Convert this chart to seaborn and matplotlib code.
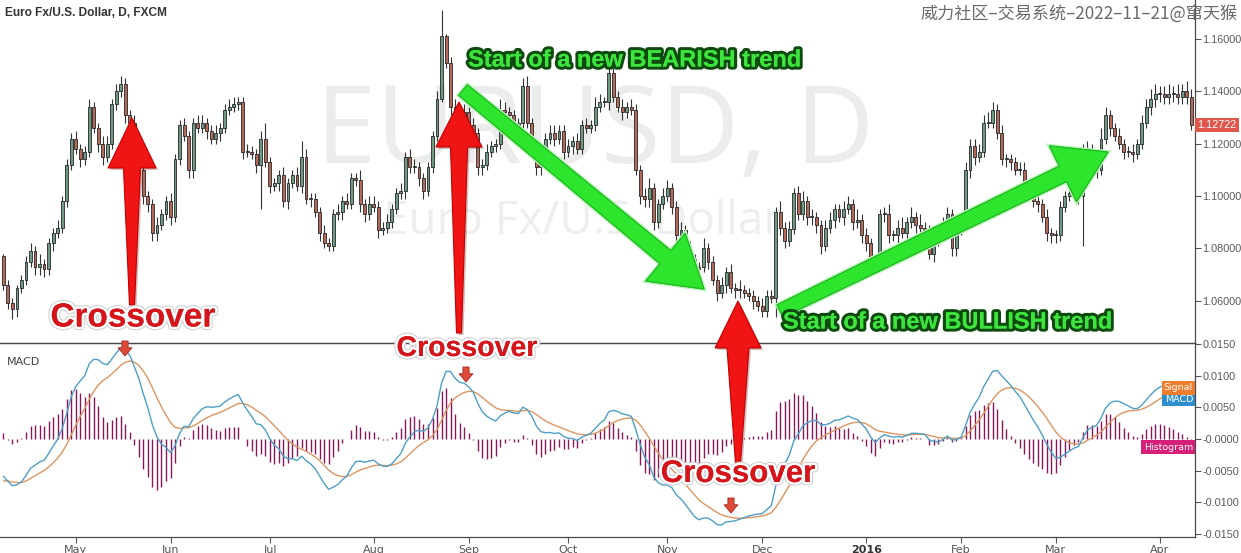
import numpy as np
import pandas as pd
import matplotlib
matplotlib.use("Agg")
import matplotlib.pyplot as plt
import seaborn as sns
from matplotlib.patches import Polygon
from matplotlib.transforms import Affine2D
import matplotlib.patheffects as pe

# ---------------- data ----------------
START_DATE = "2015-04-09"
FIRST_OPEN = 1.077
CLOSES = [
    1.066, 1.059, 1.057, 1.065, 1.068, 1.075, 1.079, 1.073, 1.074, 1.072, 1.082, 1.086, 1.088, 1.098, 1.112, 1.122, 1.118, 1.114, 1.117, 1.134,
    1.126, 1.120, 1.115, 1.120, 1.135, 1.140, 1.143, 1.131, 1.128, 1.115, 1.110, 1.100, 1.097, 1.086, 1.089, 1.093, 1.098, 1.092, 1.114, 1.127,
    1.123, 1.110, 1.128, 1.126, 1.128, 1.125, 1.122, 1.124, 1.126, 1.133, 1.134, 1.135, 1.136, 1.117, 1.117, 1.116, 1.112, 1.122, 1.113, 1.104,
    1.105, 1.108, 1.098, 1.105, 1.108, 1.104, 1.115, 1.099, 1.099, 1.094, 1.086, 1.082, 1.081, 1.093, 1.094, 1.098, 1.097, 1.107, 1.106, 1.097,
    1.093, 1.097, 1.096, 1.087, 1.088, 1.090, 1.095, 1.101, 1.102, 1.115, 1.111, 1.111, 1.107, 1.102, 1.111, 1.123, 1.137, 1.161, 1.151, 1.134,
    1.122, 1.126, 1.132, 1.127, 1.124, 1.111, 1.112, 1.117, 1.119, 1.120, 1.133, 1.132, 1.131, 1.126, 1.128, 1.142, 1.128, 1.119, 1.111, 1.115,
    1.122, 1.124, 1.122, 1.125, 1.117, 1.119, 1.121, 1.118, 1.127, 1.126, 1.127, 1.134, 1.136, 1.136, 1.147, 1.138, 1.134, 1.132, 1.134, 1.133,
    1.110, 1.100, 1.099, 1.103, 1.090, 1.097, 1.100, 1.103, 1.096, 1.085, 1.087, 1.081, 1.076, 1.072, 1.073, 1.080, 1.075, 1.068, 1.063, 1.066,
    1.071, 1.065, 1.064, 1.064, 1.063, 1.062, 1.060, 1.058, 1.056, 1.062, 1.061, 1.094, 1.088, 1.083, 1.0875, 1.101, 1.093, 1.098, 1.092, 1.092,
    1.089, 1.081, 1.088, 1.091, 1.095, 1.092, 1.095, 1.097, 1.090, 1.091, 1.085, 1.082, 1.074, 1.076, 1.093, 1.093, 1.085, 1.085, 1.088, 1.086,
    1.090, 1.092, 1.089, 1.088, 1.087, 1.078, 1.083, 1.085, 1.090, 1.093, 1.080, 1.087, 1.091, 1.110, 1.119, 1.115, 1.117, 1.128, 1.128, 1.133,
    1.124, 1.114, 1.114, 1.113, 1.110, 1.110, 1.104, 1.101, 1.098, 1.097, 1.092, 1.086, 1.085, 1.085, 1.096, 1.100, 1.101, 1.102, 1.100, 1.115,
    1.117, 1.110, 1.110, 1.122, 1.131, 1.126, 1.123, 1.120, 1.117, 1.117, 1.116, 1.120, 1.128, 1.134, 1.137, 1.139, 1.139, 1.138, 1.139, 1.139,
    1.138, 1.140, 1.138, 1.12722,
]
# wick lengths beyond the body, in units of 0.001
UPPER_WICK = [
    1, 2, 2, 1, 2, 2, 3, 2, 4, 2, 2, 2, 3, 2, 2, 2, 3, 2, 2, 3,
    2, 2, 3, 3, 2, 3, 3, 2, 2, 3, 2, 3, 2, 2, 3, 2, 2, 3, 2, 2,
    3, 2, 2, 3, 3, 2, 2, 3, 2, 2, 3, 3, 2, 2, 3, 2, 2, 3, 6, 2,
    2, 2, 3, 2, 2, 3, 6, 3, 2, 2, 2, 3, 2, 2, 3, 2, 3, 2, 2, 4,
    2, 3, 3, 2, 2, 3, 2, 2, 3, 2, 3, 3, 2, 2, 2, 2, 3, 10, 1, 2,
    3, 2, 3, 2, 3, 2, 2, 3, 2, 2, 4, 3, 2, 2, 2, 3, 4, 2, 2, 3,
    2, 3, 3, 2, 2, 3, 2, 3, 2, 3, 2, 4, 3, 2, 3, 2, 2, 3, 2, 3,
    2, 2, 3, 4, 2, 2, 3, 3, 2, 2, 3, 2, 2, 2, 2, 4, 2, 2, 2, 3,
    2, 3, 2, 4, 2, 2, 2, 2, 3, 2, 2, 2, 4, 2, 3, 2, 3, 4, 2, 3,
    2, 2, 3, 3, 2, 2, 3, 3, 2, 4, 2, 3, 2, 2, 2, 3, 4, 2, 3, 4,
    2, 4, 2, 4, 2, 2, 2, 3, 2, 3, 2, 3, 2, 3, 3, 3, 3, 3, 4, 3,
    2, 3, 2, 2, 2, 3, 3, 2, 3, 2, 2, 3, 2, 2, 2, 2, 3, 2, 3, 5,
    4, 3, 3, 4, 3, 2, 2, 3, 2, 2, 3, 2, 3, 3, 4, 4, 3, 3, 4, 3,
    4, 3, 4, 3,
]
LOWER_WICK = [
    2, 2, 4, 3, 2, 2, 2, 3, 3, 3, 2, 3, 2, 2, 2, 2, 2, 3, 2, 2,
    2, 3, 3, 2, 2, 2, 2, 3, 2, 3, 3, 3, 3, 3, 3, 2, 2, 3, 2, 2,
    2, 3, 3, 2, 2, 3, 2, 2, 3, 2, 2, 2, 2, 3, 2, 2, 3, 17, 2, 3,
    2, 3, 2, 3, 2, 2, 3, 2, 3, 2, 3, 2, 2, 2, 2, 3, 2, 2, 2, 3,
    3, 2, 2, 3, 2, 2, 2, 2, 2, 3, 2, 2, 3, 3, 2, 2, 2, 1, 2, 3,
    3, 3, 2, 3, 2, 3, 3, 2, 2, 2, 2, 2, 3, 3, 2, 2, 2, 2, 3, 3,
    2, 2, 3, 2, 3, 2, 3, 2, 2, 2, 2, 2, 2, 2, 3, 2, 2, 3, 2, 2,
    2, 3, 3, 3, 3, 2, 2, 2, 3, 3, 2, 3, 3, 3, 2, 2, 3, 2, 3, 2,
    3, 2, 3, 3, 2, 2, 3, 2, 2, 2, 2, 7, 3, 3, 2, 2, 2, 2, 3, 3,
    3, 3, 2, 2, 3, 2, 3, 2, 3, 2, 3, 3, 3, 3, 2, 3, 3, 2, 3, 2,
    3, 2, 3, 2, 3, 2, 3, 2, 2, 3, 3, 3, 2, 2, 3, 3, 2, 2, 2, 2,
    2, 2, 3, 3, 2, 2, 3, 3, 2, 3, 2, 3, 3, 3, 2, 2, 2, 2, 3, 19,
    2, 3, 3, 2, 2, 3, 2, 2, 3, 2, 3, 2, 2, 2, 3, 3, 3, 3, 3, 3,
    3, 3, 3, 2,
]
# MACD (12, 26, 9) state just before the first visible bar
EMA12_START = 1.0760
EMA26_START = 1.0815
SIGNAL_START = -0.0068

PRICE_TICKS = [1.06, 1.08, 1.10, 1.12, 1.14, 1.16]
MACD_TICKS = [0.015, 0.010, 0.005, 0.0, -0.005, -0.010, -0.015]
MACD_TICK_LABELS = ["0.0150", "0.0100", "0.0050", "-0.0000", "-0.0050", "-0.0100", "-0.0150"]

TITLE = "Euro Fx/U.S. Dollar, D, FXCM"
WATERMARK = "威力社区–交易系统–2022–11–21@窜天猴"

# ---------------- derived series ----------------
close = np.array(CLOSES, dtype=float)
n = len(close)
assert len(UPPER_WICK) == n and len(LOWER_WICK) == n
idx = np.arange(n)
dates = pd.bdate_range(START_DATE, periods=n)
opn = np.r_[FIRST_OPEN, close[:-1]]
high = np.maximum(opn, close) + np.array(UPPER_WICK) * 0.001
low = np.minimum(opn, close) - np.array(LOWER_WICK) * 0.001
up = close >= opn

e12, e26, sg = EMA12_START, EMA26_START, SIGNAL_START
macd, signal = [], []
for c in close:
    e12 += (c - e12) * 2 / 13
    e26 += (c - e26) * 2 / 27
    m = e12 - e26
    sg += (m - sg) * 2 / 10
    macd.append(m)
    signal.append(sg)
df = pd.DataFrame({"i": idx, "MACD": macd, "Signal": signal})
df["Histogram"] = df["MACD"] - df["Signal"]

month_pos = [i for i in range(1, n) if dates[i].month != dates[i - 1].month]
month_lab = [str(dates[i].year) if dates[i].month == 1 else dates[i].strftime("%b") for i in month_pos]

# ---------------- figure ----------------
sns.set_theme(style="white")
plt.rcParams["font.family"] = ["DejaVu Sans", "Noto Sans CJK SC"]

W, H = 1241, 553
fig = plt.figure(figsize=(W / 100, H / 100), dpi=100)
fig.patch.set_facecolor("white")
PX = Affine2D().scale(1, -1).translate(0, H)  # pixel coords (origin top-left)

AX_R = 1195
ax = fig.add_axes([0, 1 - 343 / H, AX_R / W, 343 / H])
ax2 = fig.add_axes([0, 1 - 537 / H, AX_R / W, (537 - 343) / H], sharex=ax)
for a in (ax, ax2):
    a.set_facecolor("white")
    a.patch.set_alpha(0)
    a.spines["left"].set_visible(False)
    for s in ("right", "bottom", "top"):
        a.spines[s].set_color("#4a4a4a")
        a.spines[s].set_linewidth(0.9)
ax.spines["top"].set_visible(False)

x0px, dxpx = 3.4, 4.517
ax.set_xlim(-x0px / dxpx, (AX_R - x0px) / dxpx)
ax.set_ylim(1.0439, 1.1749)
MACD_LIM = (-0.0155, 0.0152)
ax2.set_ylim(*MACD_LIM)

# watermark (behind)
ax.text(595, 135, "EURUSD, D", transform=PX, fontsize=78, color="#ececec",
        ha="center", va="center", family="Open Sans", zorder=0)
ax.text(583, 222, "Euro Fx/U.S. Dollar", transform=PX, fontsize=33, color="#eeeeee",
        ha="center", va="center", family="Open Sans", zorder=0)

# candles
ax.vlines(idx, low, high, color="#333333", lw=0.8, zorder=2)
ax.bar(idx[up], np.maximum((close - opn)[up], 0.0004), bottom=opn[up], width=0.64,
       color="#6e9a82", edgecolor="#262626", lw=0.6, zorder=3)
ax.bar(idx[~up], np.maximum((opn - close)[~up], 0.0004), bottom=close[~up], width=0.64,
       color="#b4685a", edgecolor="#262626", lw=0.6, zorder=3)

AXIS_FONT = "Liberation Sans"
ax.yaxis.tick_right()
ax.set_yticks(PRICE_TICKS)
ax.set_yticklabels([f"{v:.5f}" for v in PRICE_TICKS], family=AXIS_FONT)
ax.tick_params(axis="y", which="both", right=True, length=4, width=0.8, color="#555555",
               labelsize=7.8, labelcolor="#5a5a5a", pad=1.5)
ax.tick_params(axis="x", bottom=False, labelbottom=False)
ax.grid(False)

# last-price tag
last = close[-1]
ax.text(1.002, last, f"{last:.5f}", transform=ax.get_yaxis_transform(), fontsize=7.8,
        color="white", ha="left", va="center", zorder=6, family=AXIS_FONT,
        bbox=dict(boxstyle="square,pad=0.2", fc="#e0564b", ec="none"))

# MACD panel: histogram on its own overlay scale (as in the source pane)
HIST_SCALE = 1.3
axh = ax2.twinx()
axh.set_ylim(MACD_LIM[0] / HIST_SCALE, MACD_LIM[1] / HIST_SCALE)
axh.set_axis_off()
axh.set_zorder(ax2.get_zorder() - 1)
axh.vlines(df["i"], 0, df["Histogram"], color="#86175a", lw=1.0)

sns.lineplot(data=df, x="i", y="MACD", ax=ax2, color="#4d9fc4", lw=1.0, zorder=3, legend=False)
sns.lineplot(data=df, x="i", y="Signal", ax=ax2, color="#dc9560", lw=1.0, zorder=2, legend=False)
ax2.set_xlabel("")
ax2.set_ylabel("")
ax2.yaxis.tick_right()
ax2.set_yticks(MACD_TICKS)
ax2.set_yticklabels(MACD_TICK_LABELS, family=AXIS_FONT)
ax2.tick_params(axis="y", right=True, length=4, width=0.8, color="#555555",
                labelsize=7.8, labelcolor="#5a5a5a", pad=1.5)
ax2.set_xticks(month_pos)
ax2.set_xticklabels(month_lab)
ax2.tick_params(axis="x", bottom=True, length=4, width=0.8, color="#555555",
                labelsize=8, labelcolor="#555555", pad=2)
for t in ax2.get_xticklabels():
    if t.get_text().isdigit():
        t.set_fontweight("bold")
        t.set_color("#333333")
ax2.grid(False)
ax2.text(0.006, 0.9, "MACD", transform=ax2.transAxes, fontsize=8, color="#444444", va="center")

# series tags on the right of the MACD pane
for label, yv, col in (("MACD", 399, "#2f8fce"), ("Signal", 388, "#ef7d2c"), ("Histogram", 447, "#d61f78")):
    fig.text(1193, yv, label, transform=PX, fontsize=6.8, color="white", ha="right", va="center",
             bbox=dict(boxstyle="square,pad=0.25", fc=col, ec="none"))

# titles
fig.text(5, 13, TITLE, transform=PX, fontsize=8.6, fontweight="bold", color="#333333",
         family="Liberation Sans", ha="left", va="center")
fig.text(1238, 14, WATERMARK, transform=PX, fontsize=12.3, color="#6a6a6a",
         family=["Noto Sans CJK SC", "DejaVu Sans"], ha="right", va="center")

# ---------------- annotations ----------------
shadow = [pe.SimplePatchShadow(offset=(1.5, -1.5), alpha=0.25), pe.Normal()]


def red_arrow(tip, base_y, head_half, shaft_top, bottom_y, shaft_bot):
    tx, ty = tip
    pts = [(tx, ty), (tx + head_half, base_y), (tx + shaft_top / 2, base_y),
           (tx + shaft_bot / 2, bottom_y), (tx - shaft_bot / 2, bottom_y),
           (tx - shaft_top / 2, base_y), (tx - head_half, base_y)]
    fig.add_artist(Polygon(pts, closed=True, transform=PX, fc="#f01414", ec="#c30000",
                           lw=0.8, zorder=5, path_effects=shadow))


red_arrow((132, 118), 168, 24, 17, 305, 5)
red_arrow((459, 102), 147, 23, 17, 333, 5)
red_arrow((738, 301), 348, 23, 22, 463, 5)


def green_arrow(start, tip, half_w, head_half, head_len):
    s, t = np.array(start, float), np.array(tip, float)
    u = (t - s) / np.hypot(*(t - s))
    nrm = np.array([-u[1], u[0]])
    b = t - u * head_len
    pts = [s + nrm * half_w * 0.8, b + nrm * half_w, b + nrm * head_half, t,
           b - nrm * head_half, b - nrm * half_w, s - nrm * half_w * 0.8]
    fig.add_artist(Polygon(pts, closed=True, transform=PX, fc="#2ee52e", ec="#22b822",
                           lw=0.8, zorder=5,
                           path_effects=[pe.withStroke(linewidth=3, foreground="#b9f5b9"), pe.Normal()]))


green_arrow((463, 90), (704, 289), 8.5, 31, 50)
green_arrow((780, 311), (1108, 152), 8.5, 31, 50)

green_fx = [pe.withStroke(linewidth=4.5, foreground="#0d4a0d"), pe.Normal()]
fig.text(468, 60, "Start of a new BEARISH trend", transform=PX, fontsize=17, fontweight="bold",
         color="#3de43d", family="Liberation Sans", ha="left", va="center", zorder=6,
         path_effects=green_fx)
fig.text(783, 322, "Start of a new BULLISH trend", transform=PX, fontsize=17, fontweight="bold",
         color="#3de43d", family="Liberation Sans", ha="left", va="center", zorder=6,
         path_effects=green_fx)

red_fx = [pe.withStroke(linewidth=5, foreground="#d0d0d0"), pe.withStroke(linewidth=3.5, foreground="white"),
          pe.Normal()]
for (cx, cy, fs) in ((133, 318, 24), (467, 349, 20.5), (738, 474, 22.5)):
    fig.text(cx, cy, "Crossover", transform=PX, fontsize=fs, fontweight="bold", color="#d4161c",
             family="Liberation Sans", ha="center", va="center", zorder=6, path_effects=red_fx)


def small_down(cx, top, w=14, h=15):
    pts = [(cx - w * 0.22, top), (cx + w * 0.22, top), (cx + w * 0.22, top + h * 0.45),
           (cx + w / 2, top + h * 0.45), (cx, top + h), (cx - w / 2, top + h * 0.45),
           (cx - w * 0.22, top + h * 0.45)]
    fig.add_artist(Polygon(pts, closed=True, transform=PX, fc="#dd4a3a", ec="#a82a20", lw=0.6, zorder=6))


small_down(125, 341)
small_down(466, 367)
small_down(731, 498)

fig.savefig("out.png", dpi=100)
